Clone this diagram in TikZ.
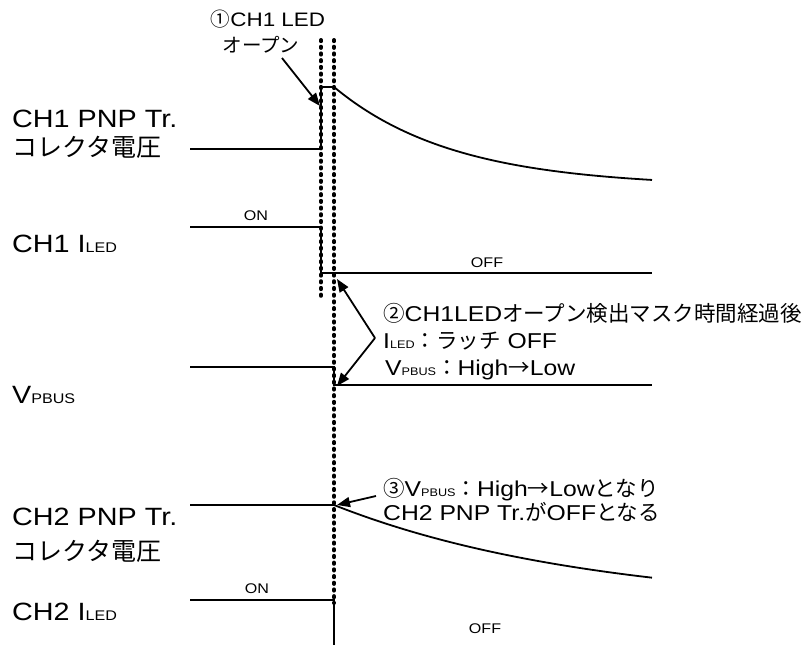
\documentclass[tikz,border=0pt]{standalone}
\usepackage{fontspec}
\setmainfont{Liberation Sans}[FakeStretch=1.15]
\newfontfamily\jp{Noto Sans CJK JP}
\usetikzlibrary{arrows.meta}
\newcommand{\lsub}[2]{{\fontsize{#1}{#1}\selectfont #2}}
\begin{document}
\begin{tikzpicture}[x=1pt,y=-1pt,
  sig/.style={line width=1.8pt},
  dotline/.style={line width=4pt, line cap=round, dash pattern=on 1.2pt off 5.5pt},
  arr/.style={line width=1.8pt, -{Triangle[length=13pt,width=10pt]}},
  lbl/.style={anchor=base west, inner sep=0pt, font=\fontsize{25}{30}\selectfont},
  ann/.style={anchor=base west, inner sep=0pt, font=\fontsize{21.5}{26}\selectfont},
  small/.style={anchor=base, inner sep=0pt, font=\fontsize{14}{16}\selectfont}]
\useasboundingbox[fill=white] (0,0) rectangle (804,645);
% dotted timing marks
\coordinate (d1t) at (321,40); \coordinate (d1b) at (321,300);
\coordinate (d2t) at (334,40); \coordinate (d2b) at (334,603);
\draw[dotline] (d1t) -- (d1b);
\draw[dotline] (d2t) -- (d2b);
% signals
\draw[sig] (190,149) -- (321,149) -- (321,87) -- (334,87) -- plot[domain=334:652,samples=80] (\x,{87+100*(1-exp(-(\x-334)/120))});
\draw[sig] (190,227) -- (321,227) -- (321,273) -- (652,273);
\draw[sig] (190,367) -- (334,367) -- (334,385) -- (652,385);
\draw[sig] (190,505) -- (334,505) -- plot[domain=334:652,samples=80] (\x,{505+103*(1-exp(-(\x-334)/260))});
\draw[sig] (190,600) -- (334,600) -- (334,645);
% left labels
\node[lbl] (l1a) at (12,127) {CH1 PNP Tr.};
\node[lbl] (l1b) at (12,156) {\jp コレクタ電圧};
\node[lbl] (l2) at (12,252) {CH1 I\lsub{14}{LED}};
\node[lbl] (l3) at (12,403) {V\lsub{14}{PBUS}};
\node[lbl] (l4a) at (12,525) {CH2 PNP Tr.};
\node[lbl] (l4b) at (12,560) {\jp コレクタ電圧};
\node[lbl] (l5) at (12,620) {CH2 I\lsub{14}{LED}};
% ON / OFF
\node[small] (on1) at (256,220) {ON};
\node[small] (off1) at (487,267) {OFF};
\node[small] (on2) at (257,593) {ON};
\node[small] (off2) at (485,633) {OFF};
% annotation 1
\node[anchor=base, inner sep=0pt, font=\fontsize{19.5}{24}\selectfont] (t1a) at (268,27) {{\jp ①}CH1 LED};
\node[anchor=base, inner sep=0pt, font=\fontsize{19.5}{24}\selectfont] (t1b) at (261,52) {\jp オープン};
\coordinate (a1s) at (282,58); \coordinate (a1e) at (320,106);
\draw[arr] (a1s) -- (a1e);
% annotation 2
\node[ann] (t2a) at (383,321) {{\jp ②}CH1LED{\jp オープン検出マスク時間経過後}};
\node[ann] (t2b) at (383,348) {I\lsub{11}{LED}{\jp ：ラッチ} OFF};
\node[ann] (t2c) at (385,375) {V\lsub{11}{PBUS}{\jp ：}High{\jp →}Low};
\coordinate (a2v) at (375,338); \coordinate (a2u) at (337,279); \coordinate (a2d) at (337,386);
\draw[arr] (a2v) -- (a2u);
\draw[arr] (a2v) -- (a2d);
% annotation 3
\node[ann] (t3a) at (383,496) {{\jp ③}V\lsub{11}{PBUS}{\jp ：}High{\jp →}Low{\jp となり}};
\node[ann] (t3b) at (383,520) {CH2 PNP Tr.{\jp が}OFF{\jp となる}};
\coordinate (a3s) at (376,496); \coordinate (a3e) at (337,505);
\draw[arr] (a3s) -- (a3e);
\end{tikzpicture}
\end{document}
